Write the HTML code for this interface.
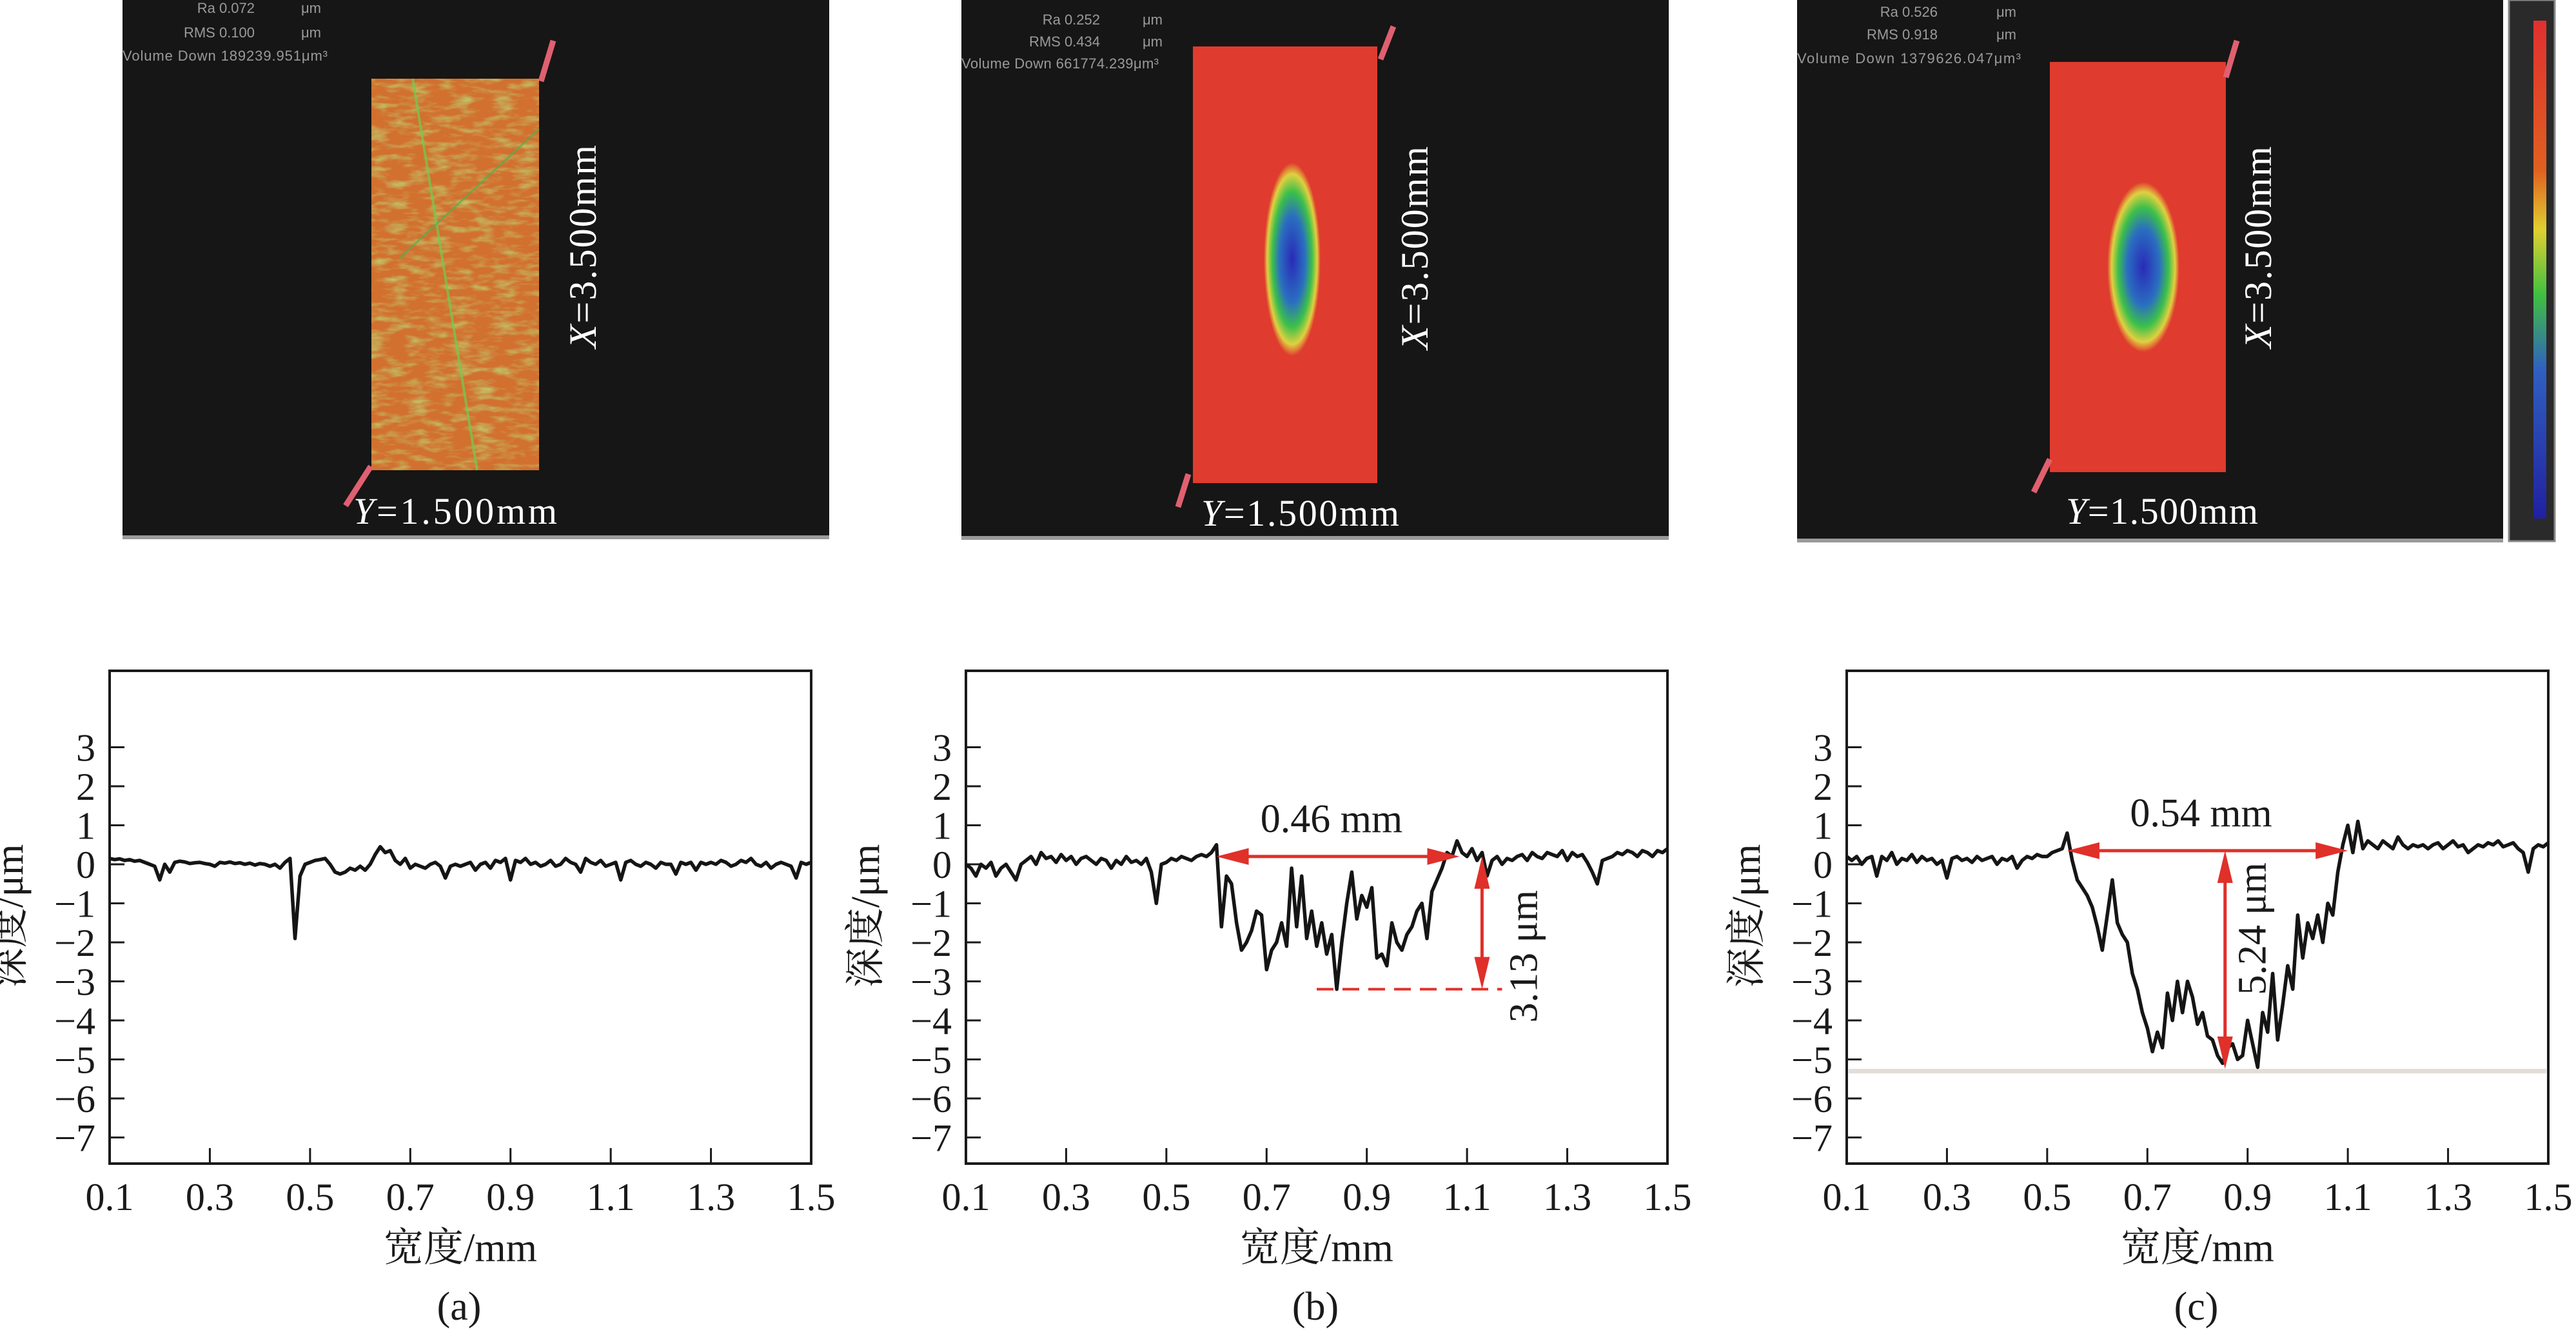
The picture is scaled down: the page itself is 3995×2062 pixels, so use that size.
<!DOCTYPE html>
<html><head><meta charset="utf-8"><style>
html,body{margin:0;padding:0;background:#fff;}
svg{display:block;}
text{font-family:"Liberation Serif","Noto Serif CJK SC","Noto Sans CJK SC",serif;}
.small{font-family:"Liberation Sans",sans-serif;font-size:22px;fill:#9a9a9a;}
</style></head><body>
<svg id="fig" width="3995" height="2062" viewBox="0 0 3995 2062" xmlns="http://www.w3.org/2000/svg">
<defs>
  <radialGradient id="blobB" cx="50%" cy="50%" r="50%">
    <stop offset="0" stop-color="#2a2ab8"/><stop offset="0.45" stop-color="#2a6fc0"/><stop offset="0.7" stop-color="#3cc04a"/><stop offset="0.88" stop-color="#e0d040"/><stop offset="1" stop-color="#df3b2e"/>
  </radialGradient>
  <linearGradient id="cbar" x1="0" y1="0" x2="0" y2="1">
    <stop offset="0" stop-color="#e03030"/><stop offset="0.3" stop-color="#e06020"/><stop offset="0.42" stop-color="#e0d030"/><stop offset="0.55" stop-color="#40c040"/><stop offset="0.7" stop-color="#3060c0"/><stop offset="1" stop-color="#2020a0"/>
  </linearGradient>
  <filter id="noiseA" x="0" y="0" width="1" height="1">
    <feTurbulence type="fractalNoise" baseFrequency="0.03 0.1" numOctaves="3" seed="4"/>
    <feColorMatrix type="matrix" values="0 0 0 0 0.5  0 0 0 0 0.75  0 0 0 0 0.2  0 0 0 1.6 -0.7"/>
    <feComposite in2="SourceGraphic" operator="in"/>
  </filter>
</defs>

<g>
  <rect x="190" y="0" width="1096" height="834" fill="#161616"/>
  <rect x="190" y="830" width="1096" height="6" fill="#9a9a9a"/>
  <text class="small" x="395" y="20" text-anchor="end">Ra 0.072</text><text class="small" x="467" y="20">μm</text>
  <text class="small" x="395" y="58" text-anchor="end">RMS 0.100</text><text class="small" x="467" y="58">μm</text>
  <text class="small" x="190" y="94" textLength="318">Volume Down 189239.951μm³</text>
  <rect x="576" y="122" width="260" height="607" fill="#d2702f"/>
  <rect x="576" y="122" width="260" height="607" fill="#d2702f" filter="url(#noiseA)"/>
  <line x1="640" y1="122" x2="740" y2="729" stroke="#6cd050" stroke-width="4" opacity="0.7"/>
  <line x1="836" y1="200" x2="620" y2="400" stroke="#50b050" stroke-width="3" opacity="0.7"/>
  <line x1="858" y1="63" x2="839" y2="126" stroke="#e06070" stroke-width="9"/>
  <line x1="575" y1="723" x2="536" y2="784" stroke="#e06070" stroke-width="9"/>
  <text x="548" y="812" font-size="58" fill="#fff" textLength="316"><tspan font-style="italic">Y</tspan>=1.500mm</text>
  <text transform="translate(924,540) rotate(-90)" font-size="60" fill="#fff" textLength="315"><tspan font-style="italic">X</tspan>=3.500mm</text>
</g>

<g>
  <rect x="1491" y="0" width="1097" height="835" fill="#161616"/>
  <rect x="1491" y="831" width="1097" height="6" fill="#9a9a9a"/>
  <text class="small" x="1706" y="38" text-anchor="end">Ra 0.252</text><text class="small" x="1772" y="38">μm</text>
  <text class="small" x="1706" y="72" text-anchor="end">RMS 0.434</text><text class="small" x="1772" y="72">μm</text>
  <text class="small" x="1491" y="106" textLength="306">Volume Down 661774.239μm³</text>
  <rect x="1850" y="72" width="286" height="677" fill="#df3b2e"/>
  <ellipse cx="2004" cy="402" rx="44" ry="150" fill="url(#blobB)"/>
  <line x1="2161" y1="41" x2="2141" y2="92" stroke="#e06070" stroke-width="9"/>
  <line x1="1843" y1="735" x2="1827" y2="786" stroke="#e06070" stroke-width="9"/>
  <text x="1863" y="815" font-size="58" fill="#fff" textLength="307"><tspan font-style="italic">Y</tspan>=1.500mm</text>
  <text transform="translate(2214,542) rotate(-90)" font-size="60" fill="#fff" textLength="315"><tspan font-style="italic">X</tspan>=3.500mm</text>
</g>

<g>
  <rect x="2787" y="0" width="1095" height="839" fill="#161616"/>
  <rect x="2787" y="835" width="1095" height="6" fill="#9a9a9a"/>
  <text class="small" x="3005" y="26" text-anchor="end">Ra 0.526</text><text class="small" x="3096" y="26">μm</text>
  <text class="small" x="3005" y="61" text-anchor="end">RMS 0.918</text><text class="small" x="3096" y="61">μm</text>
  <text class="small" x="2787" y="98" textLength="347">Volume Down 1379626.047μm³</text>
  <rect x="3179" y="96" width="273" height="636" fill="#df3b2e"/>
  <ellipse cx="3324" cy="414" rx="56" ry="132" fill="url(#blobB)"/>
  <line x1="3469" y1="63" x2="3452" y2="120" stroke="#e06070" stroke-width="9"/>
  <line x1="3179" y1="712" x2="3154" y2="763" stroke="#e06070" stroke-width="9"/>
  <text x="3204" y="812" font-size="58" fill="#fff" textLength="298"><tspan font-style="italic">Y</tspan>=1.500mm</text>
  <text transform="translate(3522,540) rotate(-90)" font-size="60" fill="#fff" textLength="313"><tspan font-style="italic">X</tspan>=3.500mm</text>
  <rect x="3891" y="0" width="71" height="839" fill="#2a2a2a" stroke="#888" stroke-width="3"/>
  <rect x="3929" y="32" width="20" height="772" fill="url(#cbar)"/>
</g>

<g id="charts"></g>
</svg>

<script>
// ---- data ----
const xStart = 0.10;
const xStep = 0.01;
const xTicks = [0.1, 0.3, 0.5, 0.7, 0.9, 1.1, 1.3, 1.5];
const xTickLabels = ["0.1","0.3","0.5","0.7","0.9","1.1","1.3","1.5"];
const yTicks = [3, 2, 1, 0, -1, -2, -3, -4, -5, -6, -7];
const yTickLabels = ["3","2","1","0","\u22121","\u22122","\u22123","\u22124","\u22125","\u22126","\u22127"];
const panelLabels = ["(a)", "(b)", "(c)"];
const depthA = [
 0.15,0.12,0.14,0.1,0.12,0.08,0.1,0.05,0.0,-0.05,
 -0.4,0.0,-0.2,0.05,0.08,0.06,0.02,0.04,0.05,0.02,
 0.0,-0.05,0.05,0.03,0.06,0.02,0.04,0.0,0.03,-0.02,
 0.02,0.0,-0.05,0.0,-0.1,0.05,0.15,-1.9,-0.3,0.0,
 0.05,0.1,0.12,0.15,0.0,-0.2,-0.25,-0.2,-0.1,-0.15,
 -0.05,-0.15,0.0,0.25,0.45,0.3,0.35,0.1,0.0,0.15,
 -0.1,0.0,-0.05,-0.1,0.0,0.05,-0.05,-0.35,-0.05,0.0,
 -0.05,0.0,0.05,-0.15,0.0,0.05,-0.1,0.1,0.05,0.15,
 -0.4,0.1,0.05,0.15,0.0,0.05,-0.05,0.0,0.1,-0.05,
 0.0,0.15,0.05,0.0,-0.2,0.15,0.05,0.0,0.1,-0.05,
 0.0,0.05,-0.4,0.05,0.1,0.0,-0.05,0.05,0.0,-0.1,
 0.05,0.0,0.0,-0.25,0.05,0.0,0.05,-0.15,0.05,0.0,
 0.05,0.0,0.1,0.05,-0.05,0.0,0.1,0.05,0.15,0.0,
 -0.05,0.05,-0.1,0.0,0.05,0.0,-0.05,-0.35,0.05,0.0,
 0.05];
const depthB = [
 0.0,-0.1,-0.3,0.0,-0.1,0.05,-0.3,-0.1,0.0,-0.2,
 -0.4,0.0,0.1,0.2,0.0,0.3,0.15,0.2,0.05,0.25,
 0.1,0.2,0.0,0.15,0.2,0.1,0.0,0.15,0.1,-0.1,
 0.1,0.0,0.2,0.05,0.1,0.0,0.15,-0.2,-1.0,0.0,
 0.05,0.15,0.1,0.2,0.15,0.1,0.2,0.25,0.2,0.3,
 0.5,-1.6,-0.3,-0.5,-1.5,-2.2,-2.0,-1.7,-1.2,-1.3,
 -2.7,-2.2,-2.0,-1.5,-2.1,-0.1,-1.6,-0.3,-1.9,-1.2,
 -2.1,-1.5,-2.3,-1.8,-3.2,-2.0,-1.0,-0.2,-1.4,-0.8,
 -1.1,-0.6,-2.4,-2.3,-2.6,-1.5,-2.0,-2.2,-1.8,-1.6,
 -1.2,-1.0,-1.9,-0.7,-0.4,-0.1,0.3,0.2,0.6,0.3,
 0.2,0.4,0.1,0.3,-0.3,0.1,0.2,0.0,0.15,0.1,
 0.2,0.25,0.1,0.3,0.2,0.15,0.3,0.25,0.2,0.35,
 0.1,0.3,0.2,0.25,0.05,-0.2,-0.5,0.1,0.15,0.2,
 0.3,0.25,0.35,0.3,0.2,0.35,0.3,0.2,0.35,0.3,
 0.4];
const depthC = [
 0.2,0.1,0.2,0.0,0.15,0.2,-0.3,0.2,0.1,0.3,
 0.0,0.15,0.1,0.25,0.05,0.2,0.1,0.15,0.0,0.1,
 -0.35,0.15,0.2,0.1,0.15,0.05,0.2,0.1,0.15,0.2,
 0.0,0.15,0.1,0.2,-0.1,0.1,0.2,0.15,0.25,0.2,
 0.2,0.3,0.35,0.4,0.8,0.1,-0.4,-0.6,-0.8,-1.1,
 -1.6,-2.2,-1.3,-0.4,-1.5,-1.8,-2.0,-2.8,-3.2,-3.8,
 -4.2,-4.8,-4.3,-4.7,-3.3,-4.0,-3.0,-3.8,-3.0,-3.4,
 -4.1,-3.8,-4.4,-4.5,-4.9,-5.1,-4.7,-4.6,-5.0,-4.9,
 -4.0,-4.6,-5.2,-3.8,-4.3,-2.8,-4.5,-3.6,-2.6,-3.2,
 -1.3,-2.4,-1.5,-1.9,-1.3,-2.0,-1.0,-1.3,-0.2,0.5,
 1.0,0.3,1.1,0.4,0.6,0.5,0.4,0.6,0.5,0.4,
 0.7,0.5,0.4,0.5,0.45,0.5,0.4,0.5,0.55,0.4,
 0.5,0.6,0.45,0.5,0.3,0.4,0.5,0.45,0.55,0.5,
 0.6,0.45,0.5,0.55,0.4,0.3,-0.2,0.4,0.5,0.45,
 0.55];
const widthB = {x1: 0.60, x2: 1.085, y: 0.2, label: "0.46 mm"};
const depthBAnn = {x: 1.13, y1: 0.2, y2: -3.2, dashFrom: 0.80, dashTo: 1.17, label: "3.13 \u03bcm"};
const widthC = {x1: 0.54, x2: 1.10, y: 0.35, label: "0.54 mm"};
const depthCAnn = {x: 0.855, y1: 0.35, y2: -5.24, label: "5.24 \u03bcm"};
const refLineC = -5.3;

// ---- layout ----
const NS = "http://www.w3.org/2000/svg";
const root = document.getElementById("charts");
const lefts = [170, 1498, 2864];
const W = 1088, TOP = 1040, BOT = 1804, Y0 = 1340, UNIT = 60.5;
function mk(tag, attrs, parent) {
  const e = document.createElementNS(NS, tag);
  for (const k in attrs) e.setAttribute(k, attrs[k]);
  (parent || root).appendChild(e);
  return e;
}
function drawPanel(i, data) {
  const L = lefts[i];
  const X = v => L + (v - 0.1) / 1.4 * W;
  const Y = v => Y0 - v * UNIT;
  const g = mk("g", {});
  
  
  const box = mk("rect", {x: L, y: TOP, width: W, height: BOT - TOP, fill: "none", stroke: "#1a1a1a", "stroke-width": 4}, g);
  
  
  yTicks.forEach((t, k) => {
    mk("line", {x1: L, x2: L + 23, y1: Y(t), y2: Y(t), stroke: "#1a1a1a", "stroke-width": 3}, g);
    const tl = mk("text", {x: L - 22, y: Y(t) + 21, "font-size": 60, "text-anchor": "end", fill: "#1a1a1a"}, g);
    tl.textContent = yTickLabels[k];
    
    
  });
  xTicks.forEach((t, k) => {
    mk("line", {x1: X(t), x2: X(t), y1: BOT, y2: BOT - 24, stroke: "#1a1a1a", "stroke-width": 3}, g);
    const tl = mk("text", {x: X(t), y: BOT + 72, "font-size": 60, "text-anchor": "middle", fill: "#1a1a1a"}, g);
    tl.textContent = xTickLabels[k];
    
    
  });
  const xt = mk("text", {x: L + 544, y: 1955, "font-size": 62, "text-anchor": "middle", fill: "#1a1a1a"}, g);
  xt.textContent = "宽度/mm";
  
  
  const yt = mk("text", {transform: `translate(${L - 135},1420) rotate(-90)`, "font-size": 62, "text-anchor": "middle", fill: "#1a1a1a"}, g);
  yt.textContent = "深度/μm";
  
  
  const pl = mk("text", {x: L + 542, y: 2046, "font-size": 62, "text-anchor": "middle", fill: "#1a1a1a"}, g);
  pl.textContent = panelLabels[i];
  
  
  if (i === 2) {
    const rl = mk("line", {x1: L + 3, x2: L + W - 3, y1: Y(refLineC), y2: Y(refLineC), stroke: "#e2ddd8", "stroke-width": 7}, g);
    
    
  }
  const pts = data.map((v, k) => `${X(xStart + k * xStep).toFixed(1)},${Y(v).toFixed(1)}`).join(" ");
  const line = mk("polyline", {points: pts, fill: "none", stroke: "#151515", "stroke-width": 5.5, "stroke-linejoin": "round"}, g);
  
  
  return {g, X, Y};
}
const RED = "#e0302a";
function hArrow(p, a) {
  const {g, X, Y} = p;
  const y = Y(a.y), x1 = X(a.x1), x2 = X(a.x2);
  const grp = mk("g", {}, g);
  
  
  mk("line", {x1: x1 + 20, x2: x2 - 20, y1: y, y2: y, stroke: RED, "stroke-width": 5}, grp);
  mk("polygon", {points: `${x1},${y} ${x1 + 50},${y - 13} ${x1 + 50},${y + 13}`, fill: RED}, grp);
  mk("polygon", {points: `${x2},${y} ${x2 - 50},${y - 13} ${x2 - 50},${y + 13}`, fill: RED}, grp);
  const t = mk("text", {x: (x1 + x2) / 2 - 10, y: y - 38, "font-size": 62, "text-anchor": "middle", fill: "#1a1a1a"}, g);
  t.textContent = a.label;
  
  
}
function vArrow(p, a, labelDx, labelDy) {
  const {g, X, Y} = p;
  const x = X(a.x), y1 = Y(a.y1), y2 = Y(a.y2);
  const grp = mk("g", {}, g);
  
  
  mk("line", {x1: x, x2: x, y1: y1 + 20, y2: y2 - 20, stroke: RED, "stroke-width": 5}, grp);
  mk("polygon", {points: `${x},${y1} ${x - 12},${y1 + 50} ${x + 12},${y1 + 50}`, fill: RED}, grp);
  mk("polygon", {points: `${x},${y2} ${x - 12},${y2 - 50} ${x + 12},${y2 - 50}`, fill: RED}, grp);
  if (a.dashFrom !== undefined) {
    mk("line", {x1: X(a.dashFrom), x2: X(a.dashTo), y1: y2, y2: y2, stroke: RED, "stroke-width": 4, "stroke-dasharray": "26 14"}, grp);
  }
  const t = mk("text", {transform: `translate(${x + labelDx},${(y1 + y2) / 2 + labelDy}) rotate(-90)`, "font-size": 62, "text-anchor": "middle", fill: "#1a1a1a"}, g);
  t.textContent = a.label;
  
  
}
drawPanel(0, depthA);
const pb = drawPanel(1, depthB);
hArrow(pb, widthB);
vArrow(pb, depthBAnn, 85, 52);
const pc = drawPanel(2, depthC);
hArrow(pc, widthC);
vArrow(pc, depthCAnn, 63, -48);
</script>
</body></html>
